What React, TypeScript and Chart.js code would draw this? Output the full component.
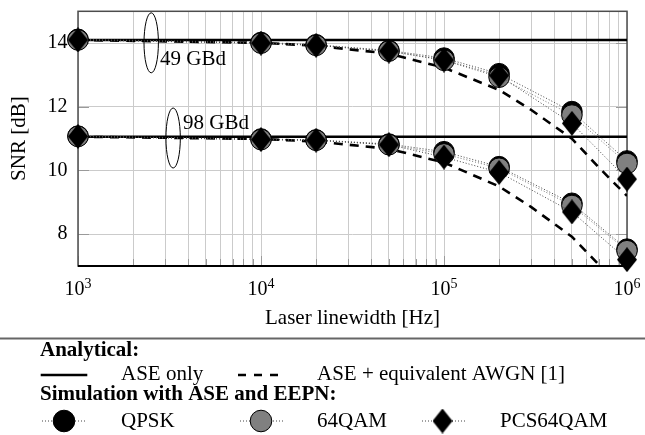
import React, { useEffect, useRef } from 'react';
import { Chart, registerables } from 'chart.js';

Chart.register(...registerables);

// ---------- data ----------
const X_SIM = [1e3, 1e4, 2e4, 5e4, 1e5, 2e5, 5e5, 1e6];
const QPSK_49 = [14.12, 14.02, 13.95, 13.77, 13.53, 13.04, 11.85, 10.3];
const QAM64_49 = [14.1, 14.0, 13.93, 13.75, 13.46, 12.93, 11.74, 10.22];
const PCS_49 = [14.1, 14.0, 13.93, 13.75, 13.47, 12.98, 11.48, 9.73];
const QPSK_98 = [11.08, 10.99, 10.96, 10.83, 10.59, 10.12, 8.97, 7.53];
const QAM64_98 = [11.07, 10.97, 10.95, 10.81, 10.52, 10.07, 8.9, 7.48];
const PCS_98 = [11.07, 10.97, 10.95, 10.81, 10.42, 9.94, 8.7, 7.2];

const X_FLAT = [1e3, 1e6];
const ASE_ONLY_49 = [14.1, 14.1];
const ASE_ONLY_98 = [11.06, 11.06];

const X_AWGN = [1e3, 1e4, 2e4, 5e4, 1e5, 2e5, 3e5, 5e5, 7e5, 1e6];
const AWGN_49 = [14.1, 14.01, 13.92, 13.67, 13.23, 12.53, 11.9, 11.0, 10.1, 9.2];
const AWGN_98 = [11.06, 10.99, 10.91, 10.68, 10.25, 9.5, 8.85, 7.92, 7.05, 6.1];

const X_GRID = [
  1000, 2000, 3000, 4000, 5000, 6000, 7000, 8000, 9000,
  10000, 20000, 30000, 40000, 50000, 60000, 70000, 80000, 90000,
  100000, 200000, 300000, 400000, 500000, 600000, 700000, 800000, 900000,
  1000000,
];
const X_MAJOR = [1e3, 1e4, 1e5, 1e6];
const X_EXPONENTS = ['3', '4', '5', '6'];
const Y_TICKS = [8, 10, 12, 14];

// annotations (data units)
const ELLIPSE_X = [2512, 3310];
const ELLIPSE_Y = [14.01, 11.02];
const LABEL_TEXT = ['49 GBd', '98 GBd'];
const LABEL_X = [2805, 3750];
const LABEL_Y = [13.3, 11.29];

const SERIF = "'Liberation Serif', 'Times New Roman', serif";

const pts = (xs: number[], ys: number[]) => xs.map((x, i) => ({ x, y: ys[i] }));

export default function App() {
  const ref = useRef<HTMLCanvasElement>(null);

  useEffect(() => {
    document.body.style.margin = '0';
    const canvas = ref.current!;

    const makeDiamond = (w: number, h: number) => {
      const c = document.createElement('canvas');
      c.width = w;
      c.height = h;
      const g = c.getContext('2d')!;
      g.beginPath();
      g.moveTo(w / 2, 0);
      g.lineTo(w, h / 2);
      g.lineTo(w / 2, h);
      g.lineTo(0, h / 2);
      g.closePath();
      g.fillStyle = '#000';
      g.fill();
      return c;
    };
    const diamond = makeDiamond(20, 25);

    const simBase = {
      showLine: true,
      borderWidth: 1,
      borderDash: [1, 2],
      borderColor: '#444',
      pointBorderColor: '#000',
      pointBorderWidth: 1,
      pointRadius: 10.3,
      pointHoverRadius: 10.3,
      clip: false as any,
      tension: 0,
    };
    const lineBase = {
      pointRadius: 0,
      pointHoverRadius: 0,
      borderColor: '#000',
      borderWidth: 2.6,
      tension: 0,
      order: 10,
    };

    const datasets: any[] = [
      { ...lineBase, label: 'ASE only 49', data: pts(X_FLAT, ASE_ONLY_49) },
      { ...lineBase, label: 'ASE only 98', data: pts(X_FLAT, ASE_ONLY_98) },
      { ...lineBase, label: 'AWGN 49', data: pts(X_AWGN, AWGN_49), borderDash: [9, 7] },
      { ...lineBase, label: 'AWGN 98', data: pts(X_AWGN, AWGN_98), borderDash: [9, 7] },
      { ...simBase, label: 'QPSK 49', data: pts(X_SIM, QPSK_49), pointBackgroundColor: '#000', order: 3 },
      { ...simBase, label: 'QPSK 98', data: pts(X_SIM, QPSK_98), pointBackgroundColor: '#000', order: 3 },
      { ...simBase, label: '64QAM 49', data: pts(X_SIM, QAM64_49), pointBackgroundColor: '#808080', borderColor: '#777', order: 2 },
      { ...simBase, label: '64QAM 98', data: pts(X_SIM, QAM64_98), pointBackgroundColor: '#808080', borderColor: '#777', order: 2 },
      { ...simBase, label: 'PCS 49', data: pts(X_SIM, PCS_49), pointStyle: diamond, order: 1 },
      { ...simBase, label: 'PCS 98', data: pts(X_SIM, PCS_98), pointStyle: diamond, order: 1 },
    ];

    const overlay = {
      id: 'overlay',
      beforeDatasetsDraw(chart: any) {
        const { ctx, chartArea: a, scales } = chart;
        const x = scales.x;
        const y = scales.y;
        ctx.save();
        ctx.strokeStyle = '#9a9a9a';
        ctx.lineWidth = 1;
        X_GRID.forEach((v) => {
          const px = Math.round(x.getPixelForValue(v)) + 0.5;
          const len = X_MAJOR.includes(v) ? 10 : 7;
          ctx.beginPath();
          ctx.moveTo(px, a.bottom);
          ctx.lineTo(px, a.bottom - len);
          ctx.stroke();
        });
        Y_TICKS.forEach((v) => {
          const py = Math.round(y.getPixelForValue(v)) + 0.5;
          ctx.beginPath();
          ctx.moveTo(a.left, py);
          ctx.lineTo(a.left + 11, py);
          ctx.moveTo(a.right, py);
          ctx.lineTo(a.right - 11, py);
          ctx.stroke();
        });
        ctx.strokeStyle = '#4d4d4d';
        ctx.lineWidth = 1.5;
        ctx.strokeRect(a.left, a.top, a.right - a.left, a.bottom - a.top);
        ctx.strokeStyle = '#000';
        ctx.lineWidth = 1.8;
        ctx.beginPath();
        ctx.moveTo(a.left, a.bottom);
        ctx.lineTo(a.right, a.bottom);
        ctx.stroke();
        ctx.restore();
      },
      afterDatasetsDraw(chart: any) {
        const { ctx, scales } = chart;
        const x = scales.x;
        const y = scales.y;
        ctx.save();
        ctx.strokeStyle = '#000';
        ctx.lineWidth = 1;
        ELLIPSE_X.forEach((ex, i) => {
          ctx.beginPath();
          ctx.ellipse(x.getPixelForValue(ex), y.getPixelForValue(ELLIPSE_Y[i]), 7.2, 30, 0, 0, Math.PI * 2);
          ctx.stroke();
        });
        ctx.fillStyle = '#000';
        ctx.font = `21px ${SERIF}`;
        ctx.textAlign = 'left';
        ctx.textBaseline = 'alphabetic';
        LABEL_TEXT.forEach((t, i) => {
          ctx.fillText(t, x.getPixelForValue(LABEL_X[i]), y.getPixelForValue(LABEL_Y[i]));
        });
        ctx.restore();
      },
      afterDraw(chart: any) {
        const { ctx, scales } = chart;
        const x = scales.x;
        ctx.save();
        ctx.fillStyle = '#000';
        ctx.textAlign = 'left';
        ctx.textBaseline = 'alphabetic';
        // x tick labels 10^k
        X_MAJOR.forEach((v, i) => {
          const px = x.getPixelForValue(v);
          ctx.font = `20px ${SERIF}`;
          const w1 = ctx.measureText('10').width;
          ctx.font = `14px ${SERIF}`;
          const w2 = ctx.measureText(X_EXPONENTS[i]).width;
          const start = px - (w1 + w2) / 2;
          ctx.font = `20px ${SERIF}`;
          ctx.fillText('10', start, 295);
          ctx.font = `14px ${SERIF}`;
          ctx.fillText(X_EXPONENTS[i], start + w1, 288);
        });

        // legend
        ctx.strokeStyle = '#666';
        ctx.lineWidth = 2;
        ctx.beginPath();
        ctx.moveTo(0, 338.5);
        ctx.lineTo(645, 338.5);
        ctx.stroke();

        ctx.font = `bold 21px ${SERIF}`;
        ctx.fillText('Analytical:', 40, 355.5);
        ctx.fillText('Simulation with ASE and EEPN:', 40, 400);

        // analytical samples
        ctx.strokeStyle = '#000';
        ctx.lineWidth = 2.6;
        ctx.beginPath();
        ctx.moveTo(40.7, 375);
        ctx.lineTo(87.3, 375);
        ctx.stroke();
        ctx.setLineDash([8, 8]);
        ctx.beginPath();
        ctx.moveTo(238, 375);
        ctx.lineTo(279, 375);
        ctx.stroke();
        ctx.setLineDash([]);

        ctx.font = `21px ${SERIF}`;
        ctx.fillText('ASE only', 121, 380);
        ctx.fillText('ASE + equivalent AWGN [1]', 317, 380);

        // simulation samples
        const rowY = 421;
        const dotted = (x0: number, x1: number) => {
          ctx.save();
          ctx.strokeStyle = '#444';
          ctx.lineWidth = 1;
          ctx.setLineDash([1, 2]);
          ctx.beginPath();
          ctx.moveTo(x0, rowY);
          ctx.lineTo(x1, rowY);
          ctx.stroke();
          ctx.restore();
        };
        dotted(42, 87);
        ctx.beginPath();
        ctx.arc(64, rowY, 10.8, 0, Math.PI * 2);
        ctx.fillStyle = '#000';
        ctx.fill();
        ctx.lineWidth = 1;
        ctx.strokeStyle = '#000';
        ctx.stroke();

        dotted(240, 283);
        ctx.beginPath();
        ctx.arc(261, rowY, 10.8, 0, Math.PI * 2);
        ctx.fillStyle = '#808080';
        ctx.fill();
        ctx.stroke();

        dotted(422, 467);
        ctx.drawImage(diamond, 442.5 - 10, rowY - 12.5);

        ctx.fillStyle = '#000';
        ctx.font = `21px ${SERIF}`;
        ctx.fillText('QPSK', 121, 426.5);
        ctx.fillText('64QAM', 317, 426.5);
        ctx.fillText('PCS64QAM', 500, 426.5);
        ctx.restore();
      },
    };

    const chart = new Chart(canvas, {
      type: 'line',
      data: { datasets },
      options: {
        responsive: false,
        animation: false,
        events: [],
        layout: { padding: { left: 0, right: 18, top: 8, bottom: 99 } },
        plugins: {
          legend: { display: false },
          tooltip: { enabled: false },
        },
        scales: {
          x: {
            type: 'logarithmic',
            min: 1000,
            max: 1000000,
            afterBuildTicks: (scale: any) => {
              scale.ticks = X_GRID.map((v) => ({ value: v, major: X_MAJOR.includes(v) }));
            },
            afterFit: (scale: any) => {
              scale.height = 70;
              scale.paddingLeft = 0;
              scale.paddingRight = 0;
              scale.paddingTop = 0;
              scale.paddingBottom = 0;
            },
            ticks: { display: false, autoSkip: false },
            grid: { color: '#cbcbcb', lineWidth: 1, drawTicks: false },
            border: { display: false },
            title: {
              display: true,
              text: 'Laser linewidth [Hz]',
              color: '#000',
              font: { family: SERIF, size: 21 },
              padding: { top: 0, bottom: 5.4 },
            },
          },
          y: {
            type: 'linear',
            min: 7,
            max: 15,
            afterBuildTicks: (scale: any) => {
              scale.ticks = Y_TICKS.map((v) => ({ value: v }));
            },
            afterFit: (scale: any) => {
              scale.width = 78;
              scale.paddingTop = 0;
              scale.paddingBottom = 0;
              scale.paddingLeft = 0;
              scale.paddingRight = 0;
            },
            ticks: {
              color: '#000',
              font: { family: SERIF, size: 20 },
              padding: 10.5,
              autoSkip: false,
            },
            grid: { color: '#cbcbcb', lineWidth: 1, drawTicks: false },
            border: { display: false },
            title: {
              display: true,
              text: 'SNR [dB]',
              color: '#000',
              font: { family: SERIF, size: 21 },
              padding: { top: 7, bottom: 0 },
            },
          },
        },
      } as any,
      plugins: [overlay],
    });

    return () => chart.destroy();
  }, []);

  return (
    <div style={{ width: 645, height: 435 }}>
      <canvas ref={ref} width={645} height={435} style={{ display: 'block' }} />
    </div>
  );
}
